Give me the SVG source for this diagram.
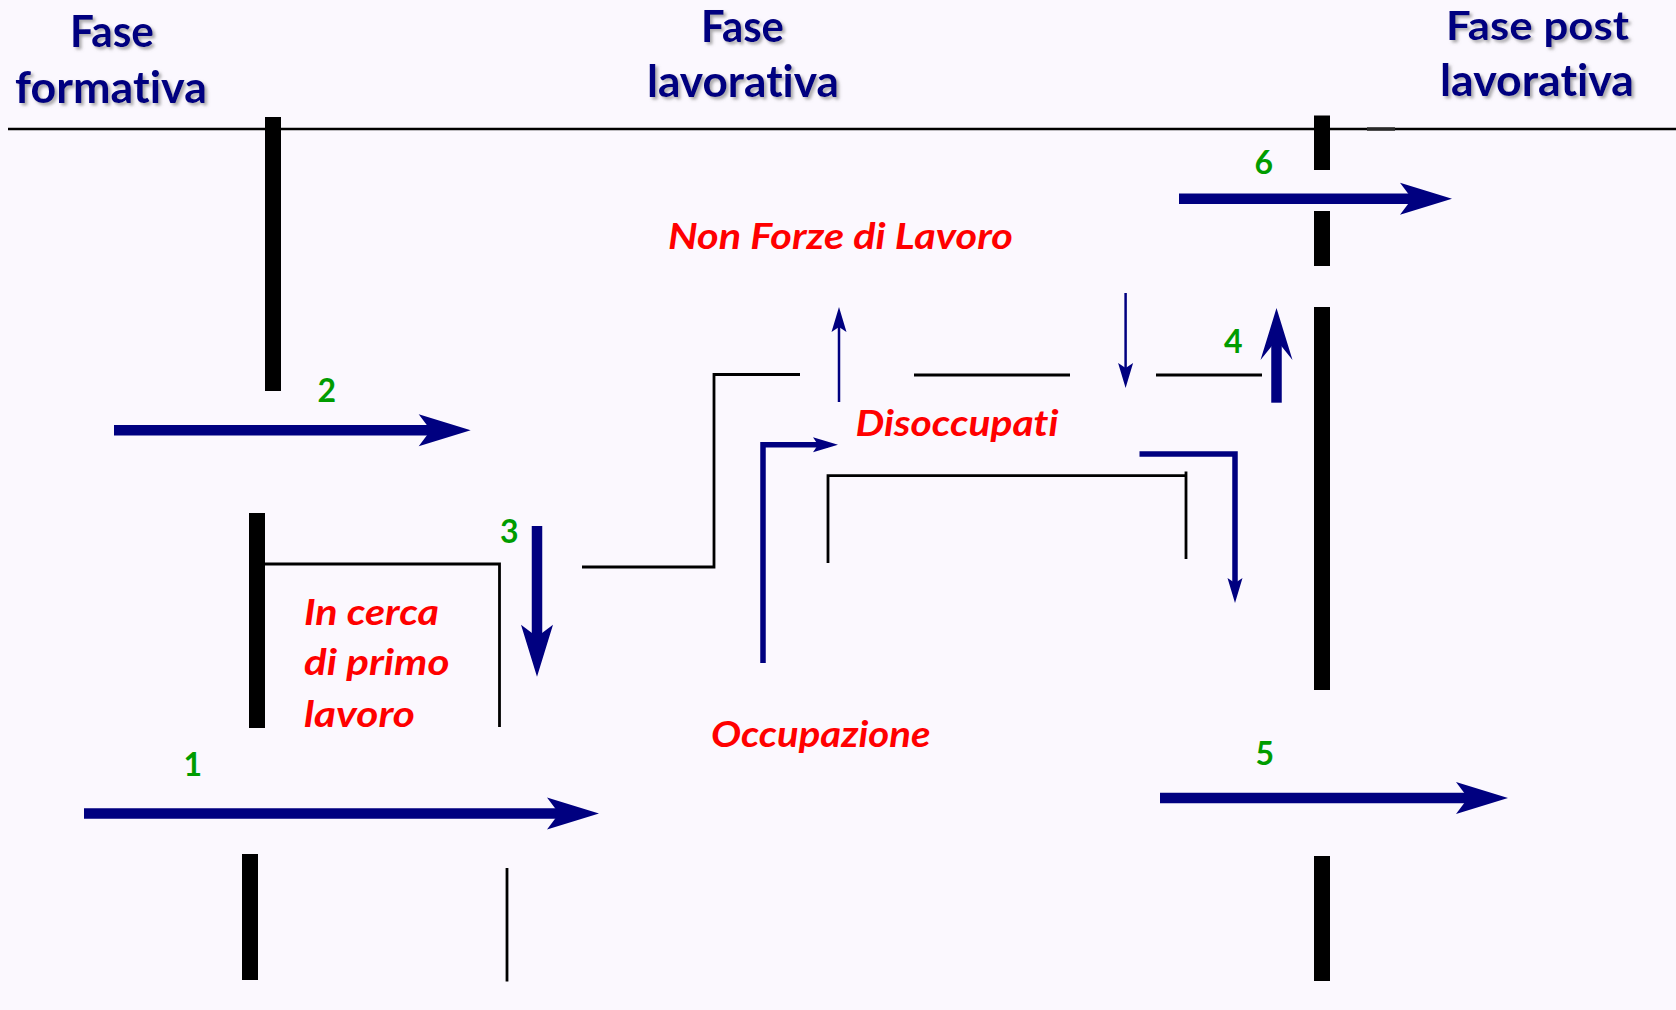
<svg xmlns="http://www.w3.org/2000/svg" width="1676" height="1010" viewBox="0 0 1676 1010">
  <style>
    text { font-variant-ligatures: none; font-feature-settings: "liga" 0, "dlig" 0; }
    .hdr { font-family: Lato, "Open Sans", "Liberation Sans", sans-serif; font-weight: bold; font-size: 43px; fill: #000080; filter: url(#shadow); }
    .red { font-family: Lato, "Open Sans", "Liberation Sans", sans-serif; font-weight: bold; font-style: italic; font-size: 37px; fill: #FF0000; }
    .num { font-family: Lato, "Open Sans", "Liberation Sans", sans-serif; font-weight: bold; font-size: 32px; fill: #009C00; }
    .bar { fill: #000000; }
    .thin { fill: none; stroke: #000000; stroke-width: 2.8; }
    .thick { fill: none; stroke: #000080; stroke-width: 10.5; }
    .mid { fill: none; stroke: #000080; stroke-width: 5.5; stroke-linejoin: miter; }
    .fine { fill: none; stroke: #000080; stroke-width: 2.5; }
  </style>
  <defs>
    <filter id="shadow" x="-10%" y="-20%" width="130%" height="150%">
      <feDropShadow dx="2.5" dy="2.5" stdDeviation="1.5" flood-color="#666666" flood-opacity="0.55"/>
    </filter>
    <marker id="bigHead" markerUnits="userSpaceOnUse" markerWidth="60" markerHeight="40" viewBox="0 -20 60 40" refX="30" refY="0" orient="auto" overflow="visible">
      <path d="M0,-16 L52,0 L0,16 L12,0 Z" fill="#000080"/>
    </marker>
    <marker id="head4" markerUnits="userSpaceOnUse" markerWidth="60" markerHeight="40" viewBox="0 -20 60 40" refX="32" refY="0" orient="auto" overflow="visible">
      <path d="M0,-16 L52,0 L0,16 L20,0 Z" fill="#000080"/>
    </marker>
    <marker id="smallHead" markerUnits="userSpaceOnUse" markerWidth="30" markerHeight="20" viewBox="0 -10 30 20" refX="15" refY="0" orient="auto" overflow="visible">
      <path d="M0,-7.5 L25,0 L0,7.5 L5,0 Z" fill="#000080"/>
    </marker>
  </defs>

  <rect x="0" y="0" width="1676" height="1010" fill="#FBF8FE"/>

  <g id="headers">
    <g id="fase-formativa">
      <text class="hdr" x="70" y="46.5" textLength="84" lengthAdjust="spacingAndGlyphs">Fase</text>
      <text class="hdr" x="15" y="103" textLength="192" lengthAdjust="spacingAndGlyphs">formativa</text>
    </g>
    <g id="fase-lavorativa">
      <text class="hdr" x="701" y="42" textLength="83" lengthAdjust="spacingAndGlyphs">Fase</text>
      <text class="hdr" x="647" y="97" textLength="192" lengthAdjust="spacingAndGlyphs">lavorativa</text>
    </g>
    <g id="fase-post-lavorativa">
      <text class="hdr" x="1446" y="40" textLength="183" lengthAdjust="spacingAndGlyphs" style="font-size:40px">Fase post</text>
      <text class="hdr" x="1440" y="96" textLength="194" lengthAdjust="spacingAndGlyphs">lavorativa</text>
    </g>
  </g>

  <g id="timeline">
    <line x1="8" y1="129" x2="1676" y2="129" stroke="#000000" stroke-width="2.5"/>
    <rect x="1367" y="127" width="28" height="4" fill="#333333" opacity="0.8"/>
  </g>

  <g id="barriers">
    <rect class="bar" x="265" y="117" width="16" height="274"/>
    <rect class="bar" x="249" y="513" width="16" height="215"/>
    <rect class="bar" x="242" y="854" width="16" height="126"/>
    <rect class="bar" x="1314" y="115.5" width="16" height="54.5"/>
    <rect class="bar" x="1314" y="211" width="16" height="55"/>
    <rect class="bar" x="1314" y="307" width="16" height="383"/>
    <rect class="bar" x="1314" y="856" width="16" height="125"/>
  </g>

  <g id="boundaries">
    <path class="thin" d="M265,564 L499.5,564 L499.5,727"/>
    <path class="thin" d="M582,567 L714,567 L714,374.5 L800,374.5"/>
    <path class="thin" d="M914,375 L1070,375"/>
    <path class="thin" d="M1156,375 L1262,375"/>
    <path class="thin" d="M828,563 L828,475.7 L1186,475.7"/>
    <path class="thin" d="M1186,471.5 L1186,559"/>
    <path class="thin" d="M507,868 L507,981.5"/>
  </g>

  <g id="node-non-forze-di-lavoro">
    <text class="red" x="668" y="249" textLength="345" lengthAdjust="spacingAndGlyphs">Non Forze di Lavoro</text>
  </g>
  <g id="node-disoccupati">
    <text class="red" x="855.5" y="436" textLength="203" lengthAdjust="spacingAndGlyphs">Disoccupati</text>
  </g>
  <g id="node-occupazione">
    <text class="red" x="711" y="746.5" textLength="219.5" lengthAdjust="spacingAndGlyphs">Occupazione</text>
  </g>
  <g id="node-in-cerca">
    <text class="red" x="304" y="625" textLength="135" lengthAdjust="spacingAndGlyphs">In cerca</text>
    <text class="red" x="304" y="675" textLength="145.5" lengthAdjust="spacingAndGlyphs">di primo</text>
    <text class="red" x="304" y="726.5" textLength="111" lengthAdjust="spacingAndGlyphs">lavoro</text>
  </g>

  <g id="connectors">
    <line class="thick" x1="84" y1="813.5" x2="577" y2="813.5" marker-end="url(#bigHead)"/>
    <line class="thick" x1="114" y1="430.3" x2="448.7" y2="430.3" marker-end="url(#bigHead)"/>
    <line class="thick" x1="537" y1="526" x2="537" y2="654.7" marker-end="url(#bigHead)"/>
    <line class="thick" x1="1276.5" y1="402.7" x2="1276.5" y2="328" marker-end="url(#head4)"/>
    <line class="thick" x1="1160" y1="798" x2="1486" y2="798" marker-end="url(#bigHead)"/>
    <line class="thick" x1="1179" y1="198.7" x2="1430" y2="198.7" marker-end="url(#bigHead)"/>
    <line class="fine" x1="839" y1="402" x2="839" y2="317" marker-end="url(#smallHead)"/>
    <line class="fine" x1="1125.6" y1="293" x2="1125.6" y2="378" marker-end="url(#smallHead)"/>
    <path class="mid" d="M763,663 L763,444.7 L828,444.7" marker-end="url(#smallHead)"/>
    <path class="mid" d="M1139.5,454 L1235,454 L1235,593" marker-end="url(#smallHead)"/>
  </g>

  <g id="labels">
    <text class="num" x="317.5" y="402">2</text>
    <text class="num" x="500" y="542.5">3</text>
    <text class="num" x="183.5" y="776">1</text>
    <text class="num" x="1224" y="353">4</text>
    <text class="num" x="1255.5" y="764.5">5</text>
    <text class="num" x="1254.5" y="174">6</text>
  </g>
</svg>
